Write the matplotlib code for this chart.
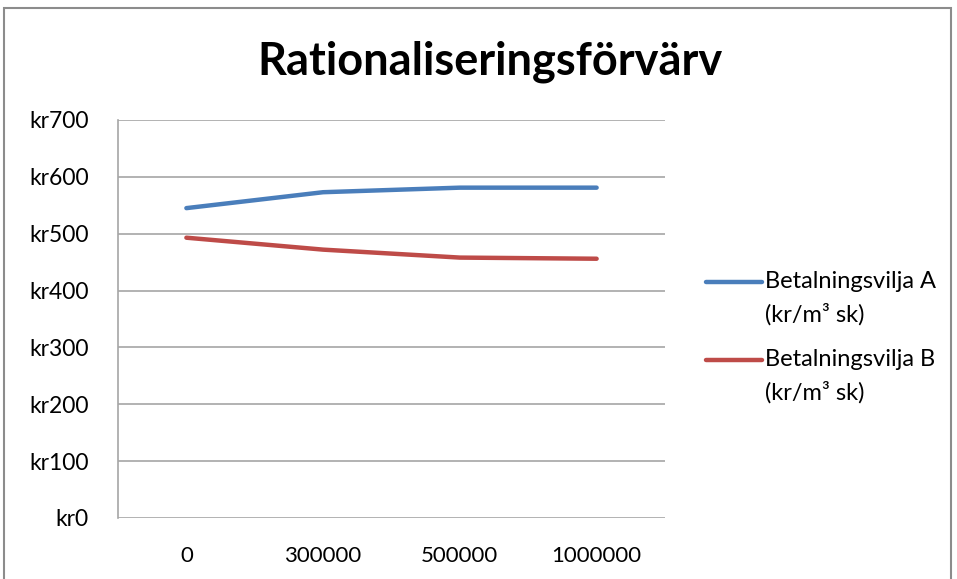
import matplotlib.pyplot as plt
from matplotlib.lines import Line2D
from matplotlib.patches import Rectangle

categories = ['0', '300000', '500000', '1000000']
betalning_a = [545, 573, 581, 581]
betalning_b = [493, 472, 458, 456]
series_names = ['Betalningsvilja A\n(kr/m³ sk)', 'Betalningsvilja B\n(kr/m³ sk)']
colors = ['#4A7EBB', '#BE4B48']
yticks = [0, 100, 200, 300, 400, 500, 600, 700]

plt.rcParams['font.family'] = ['Lato', 'DejaVu Sans']

W, H = 957, 579
fig = plt.figure(figsize=(W / 100, H / 100), dpi=100)

# chart border (Excel chart area)
fig.patches.append(Rectangle((4 / W, -0.05), (951 - 4) / W, 1.05 - 8 / H,
                             transform=fig.transFigure, fill=False,
                             edgecolor='#8c8c8c', linewidth=1.5))

ax = fig.add_axes([118 / W, 1 - 518 / H, (665 - 118) / W, (518 - 120) / H])
x = range(len(categories))
for vals, c in zip([betalning_a, betalning_b], colors):
    ax.plot(x, vals, color=c, linewidth=3.2, solid_capstyle='round')

ax.set_xlim(-0.5, len(categories) - 0.5)
ax.set_ylim(0, 700)
ax.set_yticks(yticks)
ax.set_yticklabels([f'kr{v}' for v in yticks])
ax.set_xticks(list(x))
ax.set_xticklabels(categories)
ax.grid(axis='y', color='#a6a6a6', linewidth=1.2)
ax.set_axisbelow(True)
for s in ['top', 'right', 'bottom']:
    ax.spines[s].set_visible(False)
ax.spines['left'].set_color('#a6a6a6')
ax.spines['left'].set_linewidth(1.2)
ax.tick_params(length=0, colors='#000000')
ax.tick_params(axis='y', pad=21, labelsize=16.5)
ax.tick_params(axis='x', pad=20, labelsize=16)

fig.text(490 / W, 1 - 62 / H, 'Rationaliseringsförvärv', ha='center', va='center',
         fontsize=32.5, fontweight='bold')

# legend
leg_y = [282, 360]
for name, c, yy in zip(series_names, colors, leg_y):
    fig.lines.append(Line2D([706 / W, 762 / W], [1 - yy / H, 1 - yy / H],
                            transform=fig.transFigure, color=c, linewidth=3.2,
                            solid_capstyle='round'))
    fig.text(765 / W, 1 - (yy - 11) / H, name, ha='left', va='top', fontsize=17,
             linespacing=1.6)

fig.savefig('out.png', dpi=100)
